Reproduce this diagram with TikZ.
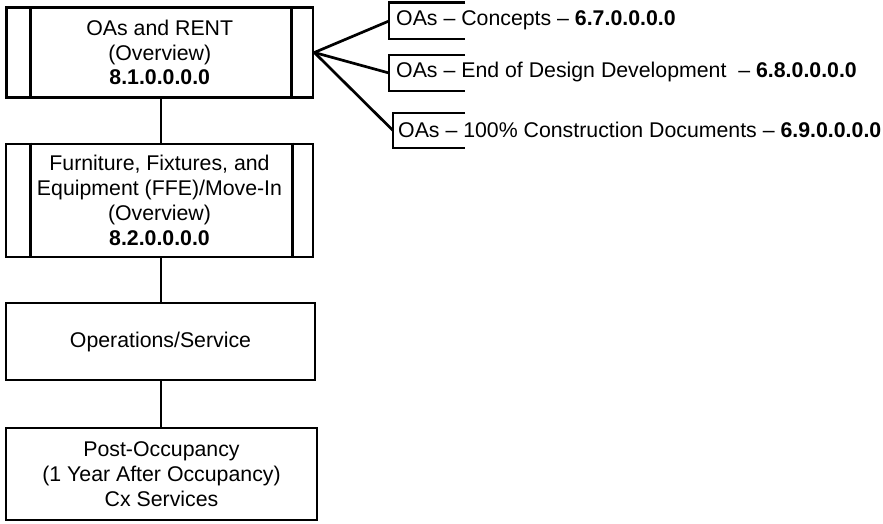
\documentclass[tikz,border=0pt]{standalone}
\usepackage{fontspec}
\setmainfont{Liberation Sans}
\begin{document}
\begin{tikzpicture}[x=1pt,y=-1pt,
  box/.style={draw,line width=2.7pt,rectangle,inner sep=0pt,align=center,
    font=\fontsize{21.3}{24.8}\selectfont},
  note/.style={inner sep=0pt,anchor=west,font=\fontsize{21.3}{24.8}\selectfont},
  link/.style={line width=2.7pt},
  brk/.style={line width=2.7pt}]
\useasboundingbox (0,0) rectangle (883,523);
% main boxes
\node[box,minimum width=306.5pt,minimum height=90pt] (b1) at (159.75,52.5)
  {OAs and RENT\\(Overview)\\\textbf{8.1.0.0.0.0}};
\node[box,minimum width=307pt,minimum height=113pt] (b2) at (159.5,200.5)
  {Furniture, Fixtures, and\\Equipment (FFE)/Move-In\\(Overview)\\\textbf{8.2.0.0.0.0}};
\node[box,minimum width=309pt,minimum height=77pt] (b3) at (160.5,341.5)
  {Operations/Service};
\node[box,minimum width=311pt,minimum height=92pt] (b4) at (161.5,474)
  {Post-Occupancy\\(1 Year After Occupancy)\\Cx Services};
% predefined-process side bars
\draw[brk] ([xshift=25.5pt]b1.north west) -- ([xshift=25.5pt]b1.south west);
\draw[brk] ([xshift=-23pt]b1.north east) -- ([xshift=-23pt]b1.south east);
\draw[brk] ([xshift=26pt]b2.north west) -- ([xshift=26pt]b2.south west);
\draw[brk] ([xshift=-22pt]b2.north east) -- ([xshift=-22pt]b2.south east);
% vertical connectors
\draw[link] (b1.south -| 161,0) -- (b2.north -| 161,0);
\draw[link] (b2.south -| 161,0) -- (b3.north -| 161,0);
\draw[link] (b3.south -| 161,0) -- (b4.north -| 161,0);
% annotations
\coordinate (ca) at (389,21);
\coordinate (cb) at (389,73);
\coordinate (cc) at (393,130.5);
\draw[brk] (465,2.7) -- (389,2.7) -- (389,39) -- (465,39);
\draw[brk] (465,55) -- (389,55) -- (389,91) -- (465,91);
\draw[brk] (465,113) -- (393,113) -- (393,148) -- (465,148);
\node[note] (na) at (396,20) {OAs -- Concepts -- \textbf{6.7.0.0.0.0}};
\node[note] (nb) at (396,72) {OAs -- End of Design Development\ \ -- \textbf{6.8.0.0.0.0}};
\node[note] (nc) at (398,129.5) {OAs -- 100\% Construction Documents -- \textbf{6.9.0.0.0.0}};
\coordinate (hub) at (b1.east);
\draw[link] (hub) -- (ca);
\draw[link] (hub) -- (cb);
\draw[link] (hub) -- (cc);
\end{tikzpicture}
\end{document}
